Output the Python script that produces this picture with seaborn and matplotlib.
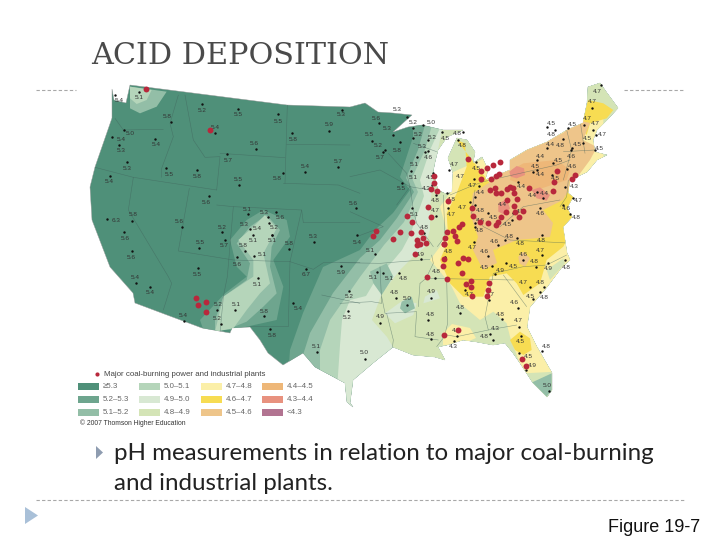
import matplotlib
matplotlib.use("Agg")
import matplotlib.pyplot as plt
from matplotlib.patches import Polygon, Rectangle
import pandas as pd
import seaborn as sns

def Z2(p): return [(90+x/3, 80+y/3) for x, y in p]
def Z3(p): return [(350+x/3, 80+y/3) for x, y in p]
def Z4(p): return [(350+x/3, 240+y/3) for x, y in p]

LEVEL_LABELS = ["≥5.3","5.2–5.3","5.1–5.2","5.0–5.1","4.9–5.0","4.8–4.9","4.7–4.8","4.6–4.7","4.5–4.6","4.4–4.5","4.3–4.4","<4.3"]
LEVEL_COLORS = ["#4f9079","#6ea58e","#93bea7","#b5d5ba","#d8e8d3","#d4e4b6","#fbefa8","#f7dc52","#eec58a","#eeb778","#e8927f","#b27491"]

US_OUTLINE = [(112,89),(114,100),(126,103),(130,85),(287,105),(350,107),(365,103),(378,112),(393,113),(412,115),(393,132),(408,127),(422,125),(443,130),(463,130),(447,137),(438,150),(435,162),(433,172),(438,190),(446,194),(452,192),(453,173),(448,158),(457,138),(467,140),(475,152),(473,163),(482,157),(488,170),(485,180),(510,170),(510,160),(527,150),(547,142),(567,130),(583,123),(587,103),(588,87),(600,83),(607,93),(618,108),(607,120),(597,130),(593,140),(595,152),(607,155),(597,160),(587,172),(570,180),(568,193),(573,197),(567,208),(572,217),(563,227),(567,253),(570,260),(562,267),(547,287),(530,307),(527,327),(537,347),(552,373),(552,390),(547,397),(533,383),(520,363),(513,353),(505,343),(493,345),(477,342),(463,340),(447,345),(438,347),(445,360),(435,357),(413,355),(393,347),(373,363),(353,380),(350,403),(353,407),(347,402),(345,383),(315,367),(303,353),(283,365),(268,353),(260,340),(250,327),(232,328),(230,333),(202,328),(167,315),(135,303),(133,293),(110,267),(92,220),(90,187),(95,167),(112,118)]

E = [(720,40),(720,460)]
LAYER_1 = [(413,120),(413,137),(400,177),(410,190),(393,213),(375,230),(360,250),(323,267),(303,313),(290,350),(285,420)] + E[::-1] + [(720,40)]
LAYER_2 = [(425,125),(418,150),(406,178),(414,192),(397,218),(380,240),(360,258),(333,293),(310,333),(303,355),(300,420)] + E[::-1] + [(720,40)]
LAYER_3 = [(432,125),(425,150),(412,178),(418,192),(404,222),(384,245),(360,277),(330,320),(320,350),(320,420)] + E[::-1] + [(720,40)]
LAYER_4 = [(440,128),(430,150),(420,180),(424,196),(410,235),(402,250),(392,262),(378,276),(366,296),(350,300),(342,320),(340,345),(335,420)] + E[::-1] + [(720,40)]
LAYER_5 = [(442,130),(436,160),(433,180),(430,207),(430,230),(425,247),(413,257),(400,270),(382,293),(372,320),(387,337),(393,347),(400,420)] + E[::-1] + [(720,40)]
PALE_YELLOW = Z3([(300,120),(300,340),(270,380),(290,450),(270,500)]) + Z4([(240,60),(300,130),(330,190),(390,240),(430,215),(470,250),(480,290),(520,400),(620,395),(760,300),(760,-400),(300,-200)])
PALE_YELLOW_2 = [(443,333),(452,324),(470,328),(476,338),(460,345),(443,345)]
YELLOW = Z3([(320,180),(345,190),(350,260),(320,340),(290,400),(295,480)]) + Z4([(270,60),(300,130),(340,170),(400,170),(420,110),(470,100),(500,130),(520,165),(570,130),(590,60),(640,20),(680,-60),(700,-150),(660,-240),(560,-170),(420,-170)])
YELLOW_ME = Z3([(715,60),(760,70),(790,90),(770,115),(720,130),(710,165),(690,135)])
YELLOW_FL = Z4([(480,300),(510,275),(540,295),(545,330),(520,345),(495,330)])
ORANGE = [(510,160),(493,180),(473,193),(470,213),(478,237),(473,250),(483,270),(497,263),(493,250),(517,240),(550,237),(553,223),(543,210),(563,200),(573,183),(590,160),(597,147),(583,140),(590,123),(577,120),(563,133),(530,148)]
ORANGE_GA = Z4([(505,50),(520,35),(540,55),(525,80),(508,70)])
DEEP_ORANGE = Z3([(485,270),(520,250),(620,240),(660,270),(650,300),(560,330),(480,300)])
PINK_1 = Z3([(478,275),(500,258),(522,265),(525,285),(500,295),(482,290)])
PINK_2 = Z3([(545,330),(570,322),(600,345),(590,362),(560,355)])
PINK_3 = Z3([(445,370),(470,358),(480,385),(465,405),(445,395)])

ISLAND_5_2 = Z2([(405,640),(330,720),(340,750),(430,750),(470,740),(560,720),(580,620),(550,540),(600,470),(590,420),(520,390),(470,420),(420,480),(440,560),(470,590)])
ISLAND_5_1_A = Z2([(440,490),(480,440),(530,405),(570,450),(545,500),(540,560),(560,640),(520,680),(470,725),(420,745),(375,755),(375,720),(400,650),(470,600),(480,550),(460,520)])
ISLAND_5_1_B = Z2([(120,20),(230,35),(200,80),(150,100),(120,85)])
ISLAND_5_0_A = Z2([(120,20),(185,30),(170,60),(140,72),(120,55)])
ISLAND_5_0_B = Z2([(445,480),(490,440),(525,405),(560,445),(520,520),(540,610),(510,640),(470,690),(430,745),(375,755),(400,650),(490,590),(490,540)])
G1 = Z4([(155,185),(185,170),(195,205),(165,220),(150,205)])
G2 = Z4([(105,220),(160,180),(200,190),(190,225),(135,250)])
G3 = Z4([(225,170),(260,150),(270,175),(220,190)])
G4 = Z4([(540,430),(605,400),(605,450),(590,470),(560,450)])
G5 = Z4([(590,90),(640,55),(645,70),(600,120)])
G6 = Z4([(60,95),(110,70),(130,110),(95,165),(70,130)])

BORDERS = [
 Z2([(75,115),(100,150),(220,148)]), Z2([(265,45),(240,130),(250,170),(215,265),(215,292)]),
 Z2([(285,45),(310,180),(345,232),(390,230),(380,330)]), Z2([(15,262),(130,292),(380,330)]),
 Z2([(298,325),(265,513),(430,540),(600,545)]), Z2([(430,380),(412,590),(400,650),(390,760)]),
 Z2([(380,375),(430,380),(635,390),(640,428),(810,428)]), Z2([(390,220),(585,233)]),
 Z2([(592,75),(585,310)]), Z2([(590,193),(780,195)]), Z2([(580,310),(745,315),(810,340)]),
 Z2([(635,390),(600,545),(595,740),(480,740)]), Z2([(600,545),(670,568),(700,548),(810,548)]),
 Z2([(130,292),(115,390),(235,590),(245,610),(220,690)]), Z2([(695,645),(810,670)]),
 Z3([(0,290),(90,270),(180,320),(300,340)]), Z3([(115,220),(170,280),(180,320),(140,375)]),
 Z3([(190,190),(260,215)]), Z3([(0,395),(100,440),(20,470)]), Z3([(180,320),(190,390),(200,430),(250,500)]),
 Z3([(280,345),(285,470),(262,500)]), Z3([(300,345),(360,320),(400,305)]), Z3([(375,330),(365,400),(400,440),(480,480)]),
 Z3([(400,305),(620,255),(660,240)]), Z3([(450,440),(520,380),(630,360)]), Z3([(480,480),(670,490)]),
 Z3([(650,150),(665,210),(640,300)]), Z3([(690,120),(705,220)]), Z3([(640,215),(735,210)]), Z3([(655,300),(650,350),(630,380)]),
 Z4([(-30,68),(90,70),(240,58)]), Z4([(90,80),(95,190),(65,185),(-30,190)]), Z4([(95,170),(105,220),(200,215),(195,290),(265,300)]),
 Z4([(210,130),(205,200)]), Z4([(245,45),(250,70),(228,115),(210,130)]), Z4([(230,115),(490,120)]), Z4([(290,115),(293,250),(283,290),(260,320)]),
 Z4([(405,230),(415,270)]), Z4([(290,285),(320,290),(415,270),(500,255)]), Z4([(430,100),(405,230)]),
 Z4([(460,105),(530,200)]), Z4([(430,100),(520,80),(590,75),(650,45)]), Z4([(110,220),(130,300),(125,340)]),
]

COAL_X_Y = Z2([(168,28),(360,151),(318,655),(323,675),(347,666),(348,695)]) + Z3([(355,238),(392,272),(410,265),(428,254),(450,245),(392,296),(423,298),(437,287),(447,281),(252,287),(252,308),(243,328),(260,332),(293,363),(235,382),(243,410),(172,407),(185,427),(367,383),(369,408),(390,427),(415,430),(437,435),(445,425),(453,410),(467,395),(472,360),(493,377),(500,357),(495,395),(507,412),(520,393),(420,330),(435,323),(437,340),(452,338),(470,328),(480,320),(490,325),(493,338),(537,323),(620,272),(613,307),(610,333),(665,297),(675,285),(335,432),(328,440),(310,453),(315,467),(322,483),(290,457),(285,473),(282,491),(228,489),(218,475),(212,455),(200,480),(210,492),(200,495),(182,460),(150,455),(128,477),(78,452),(70,467)]) + Z4([(195,42),(282,12),(283,58),(280,77),(340,53),(355,57),(323,68),(337,100),(230,112),(292,117),(362,122),(348,132),(362,140),(418,130),(415,150),(410,167),(366,169),(323,270),(283,284),(515,358),(527,377)])

ST2 = [("5.4",88,60,75,45),("5.1",148,52,147,35),("5.8",232,110,243,125),("5.2",337,92,335,72),("5.5",445,105,445,88),("5.5",565,125,563,103),("5.3",752,105,755,90),("5.9",716,135,717,152),("5.8",610,178,607,160),("5.4",375,143,375,158),("5.0",122,160,102,150),("5.4",93,178,67,172),("5.3",92,212,88,196),("5.4",198,195,195,178),("5.6",492,190,497,207),("5.7",413,243,412,222),("5.3",112,265,112,245),("5.5",237,283,228,265),("5.8",320,290,320,270),("5.5",445,298,447,315),("5.8",560,295,580,278),("5.4",645,260,645,275),("5.7",745,245,745,260),("5.4",57,305,60,288),("5.6",350,367,357,347),("5.6",790,370,798,385),("6.3",78,420,52,416),("5.8",130,403,127,422),("5.6",267,425,277,440),("5.1",473,388,473,403),("5.3",523,397,533,412),("5.6",570,413,558,397),("5.3",462,433,480,448),("5.4",503,447,537,428),("5.2",553,442,547,465),("5.2",396,442,395,455),("5.1",490,482,488,465),("5.1",546,482,546,466),("5.7",402,497,405,480),("5.8",598,490,598,507),("5.3",670,470,672,485),("5.6",105,475,101,456),("5.6",123,532,125,512),("5.5",331,487,328,504),("5.8",458,497,465,513),("5.1",516,524,491,527),("5.6",441,553,440,531),("6.7",647,585,648,567),("5.9",752,578,753,558),("5.5",323,585,323,565),("5.1",502,612,504,595),("5.4",135,592,138,610),("5.4",182,638,180,620),("5.2",778,650,776,632),("5.2",384,673,380,690),("5.1",438,675,434,690),("5.4",625,687,610,670),("5.2",772,712,773,692),("5.8",522,694,522,708),("5.2",382,715,393,733),("5.4",280,707,281,723),("5.8",545,767,541,747),("5.1",678,798,680,815)]
ST3 = [("5.3",140,88,170,110),("5.6",78,117,87,130),("5.3",110,147,128,165),("5.5",57,165,65,182),("5.2",85,197,105,210),("5.8",140,210,150,185),("5.7",90,232,100,215),("5.2",188,128,190,145),("5.0",243,128,220,135),("5.2",203,162,190,175),("5.2",245,172,235,180),("4.5",285,175,277,157),("4.8",322,160,340,155),("4.8",337,197,325,180),("5.3",217,200,235,212),("4.6",235,233,225,215),("5.1",192,252,200,232),("5.1",190,292,182,272),("5.5",155,325,155,308),("4.7",313,252,298,270),("4.7",330,289,372,296),("4.5",380,265,378,247),("4.7",368,316,388,318),("4.5",240,293,250,280),("4.3",228,325,245,315),("4.8",255,362,258,344),("4.8",303,358,290,340),("4.7",338,383,360,365),("4.7",255,393,258,408),("4.7",305,402,295,385),("5.1",193,402,185,383),("4.4",390,338,375,350),("4.4",514,320,505,305),("4.4",546,347,560,335),("4.4",584,340,578,355),("4.8",390,390,375,375),("4.6",390,420,375,430),("4.5",430,413,415,400),("4.4",457,372,470,362),("4.5",472,433,485,420),("4.5",512,395,490,400),("4.6",570,400,570,385),("4.8",222,442,222,458),("5.4",22,487,20,465),("4.8",388,452,375,440),("4.8",478,470,465,480),("4.6",433,484,445,495),("4.8",510,490,500,475),("4.8",575,482,575,465),("4.5",603,130,590,140),("4.8",605,163,615,150),("4.5",668,133,655,145),("4.7",742,35,752,15),("4.7",727,65,725,85),("4.7",712,115,703,135),("4.7",737,130,728,150),("4.7",758,165,738,165),("4.5",712,175,700,190),("4.5",682,193,665,205),("4.4",600,193,590,205),("4.8",632,196,640,178),("4.5",748,205,735,210),("4.4",570,228,560,240),("4.6",665,230,663,210),("4.5",625,240,610,250),("4.6",668,260,650,268),("4.5",555,258,548,275),("4.4",572,285,560,270),("4.5",615,297,605,285),("4.3",672,320,645,320),("4.7",685,362,670,355),("4.6",650,385,640,375),("4.8",680,412,660,402)]
ST4 = [("5.1",60,30,75,42),("4.9",212,43,212,58),("4.8",296,35,285,50),("4.7",367,22,372,5),("4.6",402,35,413,48),("4.5",402,82,425,78),("4.9",450,90,435,102),("4.5",490,80,467,68),("4.6",520,45,518,60),("4.7",572,30,577,45),("4.8",553,65,558,80),("4.9",595,87,593,70),("4.8",650,83,645,60),("5.1",70,113,80,95),("5.1",117,115,98,100),("4.8",160,115,148,98),("4.8",258,95,256,113),("4.7",520,128,540,140),("4.8",570,128,582,140),("4.8",132,158,138,175),("4.9",243,155,242,173),("4.7",358,163,345,150),("4.7",420,162,418,180),("4.5",540,168,548,178),("4.8",583,172,570,157),("5.0",173,177,172,195),("4.6",493,188,503,205),("4.8",330,203,331,220),("4.9",90,230,90,248),("4.8",240,223,234,240),("4.8",452,222,457,238),("4.7",505,241,508,260),("4.8",241,282,243,297),("4.3",435,266,420,283),("4.8",403,289,430,300),("4.8",320,272,320,288),("4.3",309,318,312,302),("4.5",512,305,513,288),("4.8",590,320,575,332),("4.5",535,349,508,338),("4.9",547,376,528,390),("5.0",44,337,44,356),("5.0",592,437,598,454)]

def conv(rows, f):
    return [(r[0],)+f([(r[1],r[2])])[0]+f([(r[3],r[4])])[0] for r in rows]
stations = pd.DataFrame(conv(ST2,Z2)+conv(ST3,Z3)+conv(ST4,Z4), columns=["ph","tx","ty","x","y"])
coal = pd.DataFrame(COAL_X_Y, columns=["x","y"])

sns.set_theme(style="white")
plt.rcParams["font.family"] = ["Liberation Sans", "DejaVu Sans"]
fig = plt.figure(figsize=(7.2,5.4), dpi=100, facecolor="white")
ax = fig.add_axes([0,0,1,1])
ax.set_xlim(0,720); ax.set_ylim(540,0); ax.axis("off")

clip = Polygon(US_OUTLINE, closed=True, transform=ax.transData)
ax.add_patch(Polygon(US_OUTLINE, closed=True, fc=LEVEL_COLORS[0], ec="#999999", lw=0.3, zorder=1))
c = LEVEL_COLORS
layers = [(LAYER_1,c[1]),(LAYER_2,c[2]),(LAYER_3,c[3]),(LAYER_4,c[4]),(LAYER_5,c[5]),
 (ISLAND_5_2,c[1]),(ISLAND_5_1_A,c[2]),(ISLAND_5_0_B,c[3]),(ISLAND_5_1_B,c[2]),(ISLAND_5_0_A,c[3]),
 (G6,c[2]),(G2,c[4]),(G1,c[2]),(G3,c[4]),
 (PALE_YELLOW,c[6]),(PALE_YELLOW_2,c[6]),(YELLOW,c[7]),(YELLOW_ME,c[7]),(YELLOW_FL,c[7]),(G5,c[5]),(G4,c[2]),(ORANGE,c[8]),(ORANGE_GA,c[8]),(DEEP_ORANGE,c[9]),(PINK_1,c[10]),(PINK_2,c[10]),(PINK_3,c[10])]
for pts,col in layers:
    p = Polygon(pts, closed=True, fc=col, ec="none", zorder=2)
    ax.add_patch(p); p.set_clip_path(clip)
for b in BORDERS:
    xs,ys = zip(*b)
    l, = ax.plot(xs,ys,color="#40605a",lw=0.4,alpha=0.55,zorder=3)
    l.set_clip_path(clip)

sns.scatterplot(data=stations,x="x",y="y",s=3,color="#111111",linewidth=0,ax=ax,zorder=4,legend=False)
for r in stations.itertuples():
    ax.text(r.tx,r.ty,r.ph,fontsize=4.6,color="#333333",ha="center",va="center",zorder=5)
sns.scatterplot(data=coal,x="x",y="y",s=18,color="#b8283c",linewidth=0,ax=ax,zorder=6,legend=False)
ax.set_xlabel(""); ax.set_ylabel("")

# legend
ax.scatter([97],[374],s=9,color="#b8283c",linewidth=0)
ax.text(104,374,"Major coal-burning power and industrial plants",fontsize=5.7,color="#444444",va="center")
col_x = [78,139,201,262]; row_y=[383,396,409]
for i,(lab,colr) in enumerate(zip(LEVEL_LABELS,LEVEL_COLORS)):
    x = col_x[i//3]; y = row_y[i%3]
    ax.add_patch(Rectangle((x,y),21,7,fc=colr,ec="none"))
    ax.text(x+25,y+3.5,lab,fontsize=5.7,color="#666666",va="center")
ax.text(80,423,"© 2007 Thomson Higher Education",fontsize=4.9,color="#333333",va="center")

# slide furniture
ax.text(91,56,"ACID DEPOSITION",family="DejaVu Serif",fontsize=21.8,color="#4a4a4a",va="center",ha="left")
for x0,x1,y in [(36,76,90),(624,685,90),(36,685,500)]:
    ax.plot([x0,x1],[y,y],color="#a8a8a8",lw=0.8,ls=(0,(3,2)))
ax.add_patch(Polygon([(96,446),(96,459),(103,452.5)],closed=True,fc="#8e9cb0",ec="none"))
ax.add_patch(Polygon([(25,507),(25,524),(38,515.5)],closed=True,fc="#a9c0d8",ec="none"))
ax.text(114,454,"pH measurements in relation to major coal-burning",family="Lato",fontsize=17.35,color="#222222",va="center")
ax.text(114,483,"and industrial plants.",family="Lato",fontsize=17.35,color="#222222",va="center")
ax.text(700,527,"Figure 19-7",fontsize=13,color="#111111",ha="right",va="center")

fig.savefig("out.png",dpi=100)
